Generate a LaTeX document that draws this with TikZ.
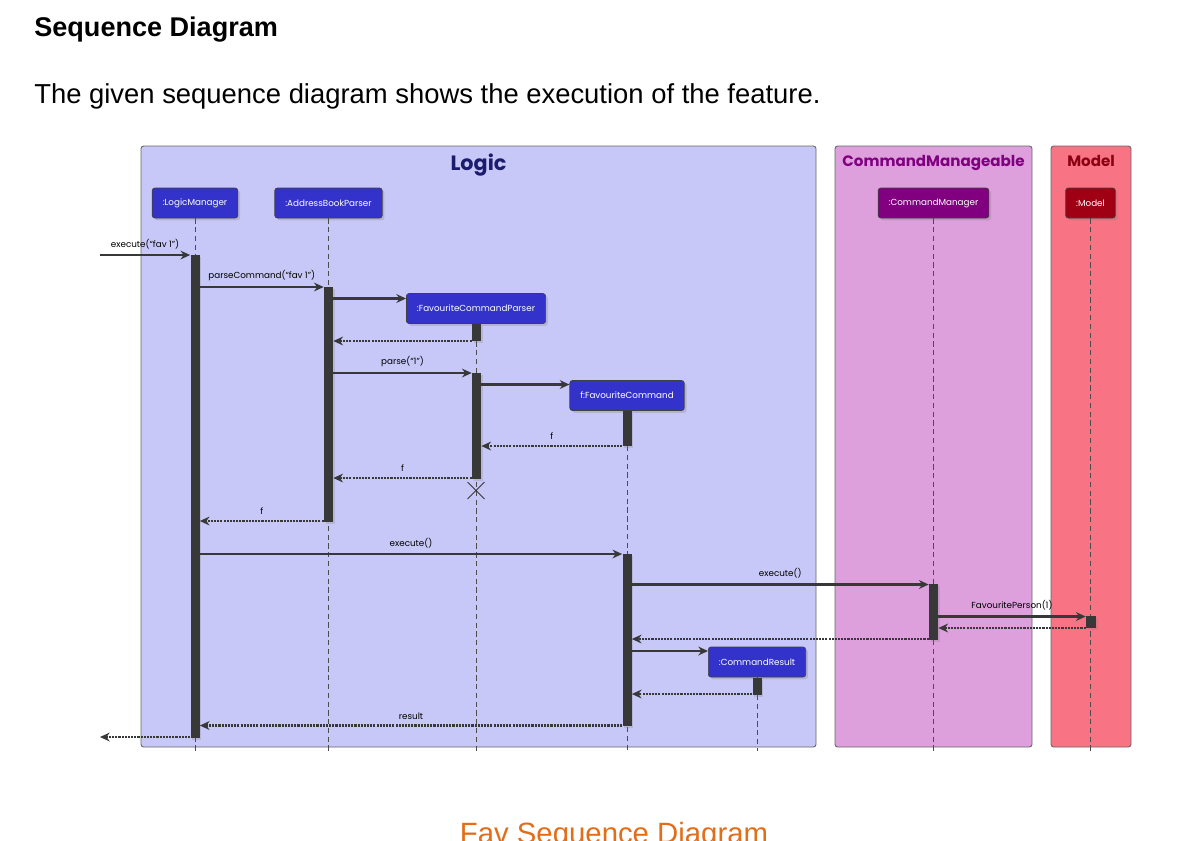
\documentclass[tikz,border=0pt]{standalone}
\usepackage{fontspec}
\setmainfont{Liberation Sans}
\newfontfamily\umlfont{Poppins}
\usetikzlibrary{arrows.meta,positioning,fit,shadows,shapes.misc}

\definecolor{logicbg}{RGB}{200,200,248}
\definecolor{cmbg}{RGB}{221,160,221}
\definecolor{modelbg}{RGB}{248,115,131}
\definecolor{logictitle}{RGB}{28,28,110}
\definecolor{cmtitle}{RGB}{128,0,128}
\definecolor{modeltitle}{RGB}{140,0,20}
\definecolor{partblue}{RGB}{51,51,204}
\definecolor{partpurple}{RGB}{128,0,128}
\definecolor{partred}{RGB}{160,0,20}
\definecolor{barcol}{RGB}{56,56,56}
\definecolor{captioncol}{RGB}{226,110,26}

\begin{document}
\begin{tikzpicture}[x=0.02cm, y=-0.02cm,
    every node/.style={inner sep=0pt},
    group/.style={draw=black!60, rounded corners=1.5pt, line width=0.5pt},
    grouptitle/.style={anchor=base, font=\umlfont\bfseries\fontsize{#1}{12}\selectfont},
    participant/.style={draw=black!75, rounded corners=1.5pt, text=white, minimum height=0.6cm, inner xsep=6pt,
      font=\umlfont\fontsize{5}{6}\selectfont, drop shadow={shadow xshift=1.3pt, shadow yshift=-1.3pt, opacity=0.3}},
    bar/.style={fill=barcol, drop shadow={shadow xshift=1pt, shadow yshift=-1pt, opacity=0.25}},
    lifeline/.style={draw=black!70, line width=0.45pt, dash pattern=on 3pt off 2pt},
    msg/.style={draw=barcol, line width=1.35pt, -{Stealth[length=5.5pt, width=5pt, inset=1.8pt]}},
    ret/.style={msg, dash pattern=on 1.2pt off 0.6pt},
    lbl/.style={above=2.8pt, font=\umlfont\fontsize{5}{6}\selectfont}
  ]
  \useasboundingbox (0,0) rectangle (1199,840);
  \clip (0,0) rectangle (1199,840);
  \fill[white] (0,0) rectangle (1199,840);

  % page text
  \node[anchor=base west, font=\bfseries\fontsize{15.4}{18}\selectfont] (Head) at (34,36) {Sequence Diagram};
  \node[anchor=base west, font=\fontsize{15.6}{18}\selectfont] (Intro) at (34,103)
    {The given sequence diagram shows the execution of the feature.};
  \node[anchor=base, text=captioncol, font=\fontsize{16.7}{20}\selectfont] (Caption) at (614,843) {Fav Sequence Diagram};

  % boxes
  \node[group, fill=logicbg, fit={(141,146)(816,747)}] (Logic) {};
  \node[group, fill=cmbg, fit={(835,146)(1032,747)}] (CMbox) {};
  \node[group, fill=modelbg, fit={(1051,146)(1131,747)}] (Modelbox) {};
  \node[grouptitle=11.8, text=logictitle] (LogicT) at ([yshift=-0.5cm]Logic.north) {Logic};
  \node[grouptitle=8.6, text=cmtitle] (CMT) at ([yshift=-0.42cm]CMbox.north) {CommandManageable};
  \node[grouptitle=8.6, text=modeltitle] (ModelT) at ([yshift=-0.42cm]Modelbox.north) {Model};

  % participants
  \node[participant, fill=partblue] (LM) at (195,203) {:LogicManager};
  \node[participant, fill=partblue] (ABP) at (328.5,203) {:AddressBookParser};
  \node[participant, fill=partblue] (FCP) at (476,308.5) {:FavouriteCommandParser};
  \node[participant, fill=partblue] (FC) at (627,395.5) {f:FavouriteCommand};
  \node[participant, fill=partblue] (CR) at (757,662) {:CommandResult};
  \node[participant, fill=partpurple] (CM) at (933.5,203) {:CommandManager};
  \node[participant, fill=partred] (MDL) at (1090.5,203) {:Model};

  % lifelines
  \coordinate (End) at (0,751);
  \foreach \p in {LM,ABP,FCP,FC,CR,CM,MDL}
    \draw[lifeline] (\p.south) -- (\p.south |- End);

  % activations
  \node[bar, fit={(190.5,255)(199.5,738)}] (LM1) {};
  \node[bar, fit={(324,287)(333,522)}] (ABP1) {};
  \node[bar, fit={(472,324)(481,341)}] (FCP1) {};
  \node[bar, fit={(472,373)(481,479)}] (FCP2) {};
  \node[bar, fit={(622.5,411)(631.5,446)}] (FC1) {};
  \node[bar, fit={(622.5,554)(631.5,726)}] (FC2) {};
  \node[bar, fit={(929,584)(938,640)}] (CM1) {};
  \node[bar, fit={(1086,616)(1096,628)}] (MDL1) {};
  \node[bar, fit={(752.5,678)(761.5,695)}] (CR1) {};
  \node[draw=barcol, line width=0.5pt, cross out, minimum size=0.32cm] (FCPx) at (476,490.5) {};

  % messages
  \coordinate (In) at (100,255);
  \coordinate (Out) at (100,737);
  \draw[msg] (In) -- node[lbl] {execute(“fav 1”)} (In -| LM1.west);
  \draw[msg] (LM1.east |- 0,287) -- node[lbl] {parseCommand(“fav 1”)} (ABP1.west |- 0,287);
  \draw[msg] (ABP1.east |- 0,298.5) -- (FCP.west |- 0,298.5);
  \draw[ret] (FCP1.west |- 0,341) -- (ABP1.east |- 0,341);
  \draw[msg] (ABP1.east |- 0,373) -- node[lbl] {parse(“1”)} (FCP2.west |- 0,373);
  \draw[msg] (FCP2.east |- 0,384.5) -- (FC.west |- 0,384.5);
  \draw[ret] (FC1.west |- 0,446) -- node[lbl] {f} (FCP2.east |- 0,446);
  \draw[ret] (FCP2.west |- 0,478) -- node[lbl] {f} (ABP1.east |- 0,478);
  \draw[ret] (ABP1.west |- 0,521) -- node[lbl] {f} (LM1.east |- 0,521);
  \draw[msg] (LM1.east |- 0,554) -- node[lbl] {execute()} (FC2.west |- 0,554);
  \draw[msg] (FC2.east |- 0,584.5) -- node[lbl] {execute()} (CM1.west |- 0,584.5);
  \draw[msg] (CM1.east |- 0,616.5) -- node[lbl] {FavouritePerson(1)} (MDL1.west |- 0,616.5);
  \draw[ret] (MDL1.west |- 0,628) -- (CM1.east |- 0,628);
  \draw[ret] (CM1.west |- 0,639) -- (FC2.east |- 0,639);
  \draw[msg] (FC2.east |- 0,651) -- (CR.west |- 0,651);
  \draw[ret] (CR1.west |- 0,694) -- (FC2.east |- 0,694);
  \draw[ret] (FC2.west |- 0,725.5) -- node[lbl] {result} (LM1.east |- 0,725.5);
  \draw[ret] (LM1.west |- Out) -- (Out);
\end{tikzpicture}
\end{document}
